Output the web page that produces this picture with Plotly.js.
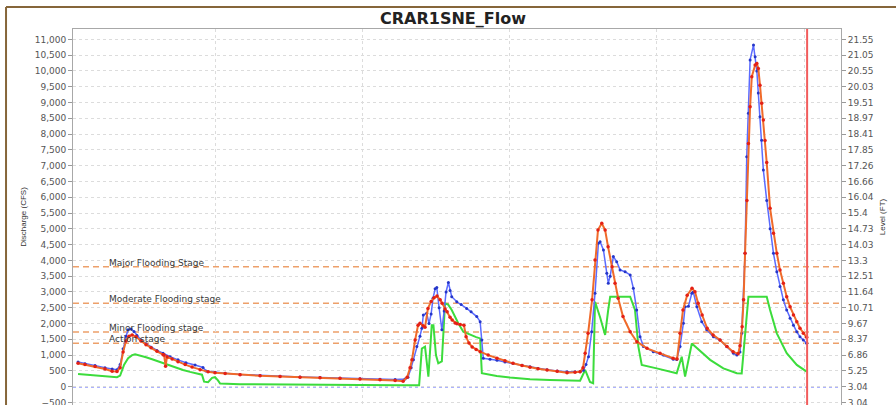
<!DOCTYPE html>
<html><head><meta charset="utf-8">
<script src="https://cdn.plot.ly/plotly-3.0.1.min.js"></script>
<style>html,body{margin:0;padding:0;background:#fff;overflow:hidden}#chart{width:896px;height:405px}</style>
</head><body><div id="chart"></div>
<script>
// ---- data (time in days, discharge in CFS) ----
const chartTitle = "CRAR1SNE_Flow";

const blueDays = [0.49,0.82,1.30,1.77,2.11,2.34,2.49,2.63,2.77,2.87,3.01,3.15,3.29,3.48,3.72,3.96,4.24,4.53,4.86,5.24,5.62,6.05,6.43,6.57,7.00,7.48,8.19,9.14,10.09,11.04,11.99,12.94,13.89,14.84,15.56,16.03,16.17,16.32,16.43,16.59,16.74,16.83,16.90,17.06,17.17,17.27,17.36,17.46,17.54,17.65,17.78,17.89,17.98,18.09,18.17,18.25,18.49,18.70,18.96,19.17,19.44,19.60,19.68,19.75,20.07,20.40,20.78,21.16,21.59,21.97,22.35,22.78,23.26,23.73,24.11,24.35,24.51,24.63,24.75,24.90,25.06,25.22,25.30,25.46,25.62,25.69,25.78,25.93,26.09,26.25,26.49,26.73,26.88,27.04,27.20,27.36,27.83,28.31,28.78,28.94,29.10,29.26,29.34,29.50,29.66,29.73,29.90,30.13,30.37,30.69,31.00,31.32,31.64,31.80,31.95,32.03,32.11,32.19,32.27,32.35,32.43,32.59,32.67,32.75,32.82,32.90,32.98,33.06,33.22,33.38,33.54,33.70,33.85,34.01,34.17,34.33,34.49,34.65,34.80,34.96,35.12];
const blueCfs = [780,730,670,600,560,540,700,1200,1600,1800,1830,1750,1620,1480,1360,1250,1150,1060,950,850,760,690,610,500,455,425,390,355,330,305,290,270,250,235,230,240,300,600,850,1270,1600,1850,2270,2330,2000,2300,2800,3100,3140,2500,1800,2400,3000,3300,3050,2850,2690,2600,2480,2370,2220,2060,1480,900,870,840,780,740,680,630,580,540,500,470,470,470,520,700,950,1740,2960,4540,4590,4330,3590,3280,3500,4120,3960,3700,3640,3540,3120,2430,1580,1270,1110,1000,870,860,1270,2010,2530,2550,2960,3000,2530,2060,1800,1580,1480,1270,1060,1000,1100,1690,2750,4225,7285,8660,10350,10820,10450,10000,9300,8550,7810,6860,5900,5000,4225,3640,3170,2750,2430,2170,1950,1740,1580,1480,1375];

const redDays = [0.49,0.82,1.30,1.77,2.11,2.34,2.49,2.63,2.77,2.91,3.06,3.25,3.48,3.72,3.96,4.24,4.53,4.58,4.65,4.72,4.96,5.24,5.58,5.91,6.29,6.67,7.00,7.48,8.19,9.14,10.09,11.04,11.99,12.94,13.89,14.84,15.56,15.94,16.13,16.27,16.36,16.51,16.65,16.74,16.89,16.98,17.12,17.27,17.41,17.55,17.70,17.79,17.93,18.03,18.17,18.27,18.41,18.50,18.65,18.83,18.93,19.07,19.22,19.41,19.60,19.98,20.40,20.78,21.16,21.59,21.97,22.35,22.78,23.26,23.73,24.11,24.35,24.49,24.59,24.73,24.92,25.06,25.20,25.38,25.54,25.68,25.87,26.01,26.16,26.39,26.73,27.05,27.53,28.15,28.77,28.96,29.10,29.24,29.44,29.67,29.81,29.96,30.15,30.39,30.67,31.00,31.33,31.62,31.86,31.95,32.05,32.12,32.19,32.28,32.35,32.43,32.51,32.67,32.75,32.82,32.90,32.98,33.06,33.14,33.22,33.38,33.54,33.70,33.85,34.01,34.17,34.33,34.49,34.65,34.80,34.96,35.12];
const redCfs = [745,700,640,560,490,480,600,1100,1450,1600,1640,1580,1450,1330,1230,1120,1010,1000,650,950,880,790,700,620,540,470,440,415,380,345,320,300,285,265,245,220,195,175,300,600,850,1480,1950,2010,1930,1880,2480,2700,2820,2870,2750,2640,2460,2370,2200,2110,2020,1990,1970,1950,1580,1380,1260,1180,1110,1000,900,820,740,670,615,570,530,490,445,455,470,600,1060,1690,2750,4010,4960,5175,4960,4430,3800,3275,2800,2220,1740,1425,1215,1057,900,880,1690,2430,2900,3115,3010,2640,2270,1850,1640,1480,1270,1110,1040,1300,1900,2750,4225,5900,7700,8870,9820,10190,10240,10080,9550,8975,8450,7800,7100,5650,4860,4225,3700,3275,2850,2530,2270,2060,1850,1690,1565];

const greenDays = [0.49,1.06,1.54,2.01,2.34,2.49,2.68,2.87,3.06,3.20,3.44,3.72,4.01,4.39,4.72,5.10,5.48,5.81,6.15,6.38,6.48,6.67,6.86,7.00,7.14,7.24,8.19,10.09,11.99,13.89,15.79,16.70,16.83,16.98,17.14,17.30,17.38,17.50,17.61,17.78,17.93,18.08,18.25,18.41,18.56,18.80,19.12,19.41,19.60,19.68,20.07,20.39,21.02,21.97,22.92,24.02,24.35,24.59,24.73,24.82,24.97,25.06,25.30,25.54,25.68,25.78,26.73,26.96,27.12,27.28,27.99,28.94,29.18,29.34,29.66,29.90,30.53,31.16,31.80,32.03,32.19,32.35,33.22,33.38,33.70,34.17,34.65,35.12];
const greenCfs = [400,370,340,310,300,350,700,900,1000,1025,990,930,870,780,690,610,530,470,420,380,160,140,280,300,200,100,80,65,55,50,45,45,1210,1270,320,1950,1950,1000,740,800,2640,2600,2430,2200,2010,1740,1640,1570,1530,425,380,340,290,235,210,180,190,530,300,150,110,2690,2200,1640,2400,2850,2850,2430,1270,690,580,425,950,320,1370,1220,850,580,425,420,1690,2850,2850,2430,1690,1060,690,475];

const stageNames = ["Action stage", "Minor Flooding stage", "Moderate Flooding stage", "Major Flooding Stage"];
const stageCfs = [1375, 1730, 2640, 3800];
const baselineCfs = 0;
const nowDay = 35.14;

const levelTickCfs = [11000,10500,10000,9500,9000,8500,8000,7500,7000,6500,6000,5500,5000,4500,4000,3500,3000,2500,2000,1500,1000,500,0,-500];
const levelTickLabels = ["21.55","21.05","20.55","20.03","19.51","18.97","18.41","17.85","17.26","16.66","16.04","15.4","14.73","14.03","13.3","12.51","11.64","10.71","9.67","8.37","6.86","5.25","3.04","3.04"];

// ---- traces ----
const traces = [
  {x: greenDays, y: greenCfs, type: 'scatter', mode: 'lines', name: 'green',
   line: {color: '#3cdc3c', width: 2}, hoverinfo: 'skip'},
  {x: blueDays, y: blueCfs, type: 'scatter', mode: 'lines+markers', name: 'blue',
   line: {color: '#5b6bff', width: 1.5}, marker: {color: '#2536c8', size: 3}},
  {x: redDays, y: redCfs, type: 'scatter', mode: 'lines+markers', name: 'red',
   line: {color: '#f06a2a', width: 2}, marker: {color: '#e42016', size: 3.5}},
  {x: [0], y: [0], yaxis: 'y2', type: 'scatter', mode: 'markers', marker: {opacity: 0}, showlegend: false, hoverinfo: 'skip'}
];

const shapes = [];
stageCfs.forEach(v => shapes.push({type: 'line', xref: 'paper', x0: 0, x1: 1, yref: 'y', y0: v, y1: v,
  layer: 'between', line: {color: '#eda06a', width: 1.5, dash: '6px,4px'}}));
shapes.push({type: 'line', xref: 'paper', x0: 0, x1: 1, yref: 'y', y0: baselineCfs, y1: baselineCfs,
  layer: 'between', line: {color: '#5a66ff', width: 1.5, dash: 'dot'}});
shapes.push({type: 'line', xref: 'x', x0: nowDay, x1: nowDay, yref: 'paper', y0: 0, y1: 1,
  layer: 'above', line: {color: '#f25c5c', width: 2}});
// frame
shapes.push({type: 'line', xref: 'paper', yref: 'paper', x0: -0.0872, x1: 1.08, y0: 1.0585, y1: 1.0585, line: {color: '#86663a', width: 2}});
shapes.push({type: 'line', xref: 'paper', yref: 'paper', x0: -0.0872, x1: -0.0872, y0: -0.05, y1: 1.0585, line: {color: '#86663a', width: 2}});

const annotations = stageNames.map((n, i) => ({
  text: n, xref: 'paper', x: 0.0443, xanchor: 'left', yref: 'y', y: stageCfs[i], yanchor: 'middle', yshift: 4,
  showarrow: false, font: {family: 'DejaVu Sans', size: 9, color: '#383838'}
}));

const layout = {
  width: 896, height: 405,
  margin: {l: 73, r: 55, t: 29, b: 0, pad: 0},
  paper_bgcolor: '#fff', plot_bgcolor: '#fff',
  showlegend: false,
  font: {family: 'DejaVu Sans', size: 9, color: '#555'},
  title: {text: chartTitle, font: {family: 'DejaVu Sans', size: 16, color: '#222', weight: 'bold'},
          x: 0.5056, xref: 'container', xanchor: 'center', y: 0.955, yref: 'container', yanchor: 'middle'},
  xaxis: {range: [0.25, 36.75], tick0: 0, dtick: 7, showticklabels: false, ticks: '',
          showgrid: true, gridcolor: '#dcdcdc', griddash: 'dot', gridwidth: 1,
          zeroline: false, showline: true, mirror: true, linecolor: '#a8a8a8', linewidth: 1},
  yaxis: {range: [-580, 11330], tick0: 0, dtick: 500, tickformat: ',', ticks: 'outside', ticklen: 4,
          tickcolor: '#999', tickfont: {family: 'DejaVu Sans', size: 9, color: '#555'}, ticklabeloverflow: 'allow',
          showgrid: true, gridcolor: '#dcdcdc', griddash: 'dot', zeroline: false,
          showline: true, linecolor: '#a8a8a8',
          title: {text: 'Discharge (CFS)', font: {family: 'Liberation Sans', size: 8, color: '#333'}, standoff: 6}},
  yaxis2: {overlaying: 'y', side: 'right', range: [-580, 11330], tickmode: 'array',
           tickvals: levelTickCfs, ticktext: levelTickLabels, ticks: 'outside', ticklen: 4, tickcolor: '#999',
           tickfont: {family: 'DejaVu Sans', size: 9, color: '#555'}, ticklabeloverflow: 'allow',
           showgrid: false, zeroline: false, showline: true, linecolor: '#a8a8a8',
           title: {text: 'Level (FT)', font: {family: 'Liberation Sans', size: 8, color: '#333'}, standoff: 6}},
  shapes: shapes,
  annotations: annotations
};

Plotly.newPlot('chart', traces, layout, {staticPlot: true, displayModeBar: false});
</script></body></html>
